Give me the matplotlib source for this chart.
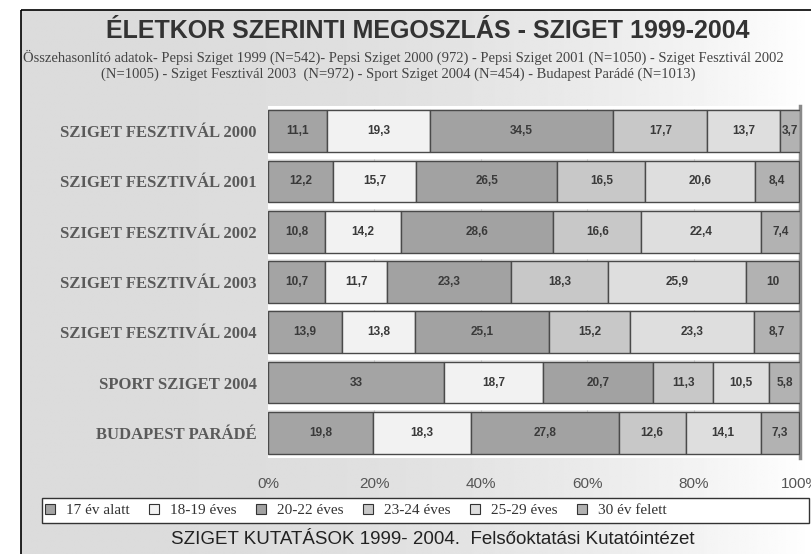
import numpy as np
import matplotlib
matplotlib.use("Agg")
import matplotlib.pyplot as plt
from matplotlib.patches import Rectangle, Patch

# -------------------- adatok --------------------
rows = ["SZIGET FESZTIVÁL 2000", "SZIGET FESZTIVÁL 2001", "SZIGET FESZTIVÁL 2002",
        "SZIGET FESZTIVÁL 2003", "SZIGET FESZTIVÁL 2004", "SPORT SZIGET 2004",
        "BUDAPEST PARÁDÉ"]
groups = ["17 év alatt", "18-19 éves", "20-22 éves", "23-24 éves", "25-29 éves", "30 év felett"]
age_17 = [11.1, 12.2, 10.8, 10.7, 13.9, 33, 19.8]
age_18_19 = [19.3, 15.7, 14.2, 11.7, 13.8, 18.7, 18.3]
age_20_22 = [34.5, 26.5, 28.6, 23.3, 25.1, 20.7, 27.8]
age_23_24 = [17.7, 16.5, 16.6, 18.3, 15.2, 11.3, 12.6]
age_25_29 = [13.7, 20.6, 22.4, 25.9, 23.3, 10.5, 14.1]
age_30 = [3.7, 8.4, 7.4, 10, 8.7, 5.8, 7.3]
xticks = [0, 20, 40, 60, 80, 100]

series = [age_17, age_18_19, age_20_22, age_23_24, age_25_29, age_30]
colors = ["#a4a4a4", "#f2f2f2", "#a2a2a2", "#c8c8c8", "#dedede", "#b2b2b2"]

W, H = 812, 554
fig = plt.figure(figsize=(W / 100, H / 100), dpi=100)

# -------------------- háttér panel --------------------
bg = fig.add_axes([0, 0, 1, 1])
bg.set_xlim(0, W)
bg.set_ylim(H, 0)
bg.axis("off")
xx = np.linspace(0, 1, 300)
grad = 0.86 + 0.14 * xx ** 2.5
img = np.tile(grad, (50, 1))
bg.imshow(img, cmap="gray", vmin=0, vmax=1, extent=[21, W + 2, H + 2, 10],
          aspect="auto", interpolation="bilinear")
bg.add_patch(Rectangle((21, 10), W, H, fill=False, edgecolor="black", lw=1.2))

bg.text(428, 31, "ÉLETKOR SZERINTI MEGOSZLÁS - SZIGET 1999-2004", ha="center", va="center",
        fontsize=18, fontweight="bold", family="Liberation Sans", color="#333333")
bg.text(23, 57, "Összehasonlító adatok- Pepsi Sziget 1999 (N=542)- Pepsi Sziget 2000 (972) - "
        "Pepsi Sziget 2001 (N=1050) - Sziget Fesztivál 2002",
        ha="left", va="center", fontsize=10.5, family="Liberation Serif", color="#444444")
bg.text(398, 74, "(N=1005) - Sziget Fesztivál 2003  (N=972) - Sport Sziget 2004 (N=454) - "
        "Budapest Parádé (N=1013)",
        ha="center", va="center", fontsize=10.5, family="Liberation Serif", color="#444444")

# -------------------- diagram --------------------
ax = fig.add_axes([268 / W, 1 - 458 / H, 532 / W, 352 / H])
ax.set_facecolor("#e4e4e4")
y = np.arange(len(rows))
left = np.zeros(len(rows))
for vals, col in zip(series, colors):
    vals = np.array(vals)
    ax.barh(y, vals, left=left, height=0.83, color=col, edgecolor="#4a4a4a", lw=1.0, zorder=3)
    for yi, l, v in zip(y, left, vals):
        ax.text(l + v / 2, yi, f"{v:g}".replace(".", ","), ha="center", va="center",
                fontsize=8.5, fontweight="bold", color="#3a3a3a", family="Liberation Sans",
                zorder=4)
    left = left + vals

# fehér "mélység" csíkok a sávok között
for yi in np.arange(-0.5, len(rows), 1.0):
    ax.axhspan(yi - 0.085, yi + 0.03, color="white", zorder=2)
for xt in xticks[1:-1]:
    ax.axvline(xt, color="#c8c8c8", lw=0.8, zorder=1)

ax.set_xlim(0, 100)
ax.set_ylim(len(rows) - 0.5, -0.5)
ax.set_xticks(xticks)
ax.set_xticklabels([f"{t}%" for t in xticks], fontsize=11, color="#555555",
                   family="Liberation Sans")
ax.set_yticks(y)
ax.set_yticklabels(rows, fontsize=12, fontweight="bold", color="#5a5a5a",
                   family="Liberation Serif")
ax.tick_params(axis="x", length=0, pad=14)
ax.tick_params(axis="y", length=0, pad=8)
for s in ax.spines.values():
    s.set_visible(False)
ax.spines["right"].set_visible(True)
ax.spines["right"].set_color("#888888")
ax.spines["right"].set_linewidth(2.5)

# -------------------- jelmagyarázat --------------------
bg.add_patch(Rectangle((42, 498), 767, 25, facecolor="white", edgecolor="#333333", lw=1.0))
handles = [Patch(facecolor=c, edgecolor="#333333", lw=0.8) for c in colors]
fig.legend(handles, groups, loc="center left", bbox_to_anchor=(45 / W, 1 - 510.5 / H),
           ncol=6, frameon=False, prop={"family": "Liberation Serif", "size": 11},
           handlelength=0.65, handleheight=0.65, handletextpad=0.7, columnspacing=1.3,
           borderpad=0, borderaxespad=0, labelcolor="#333333")

bg.text(433, 540, "SZIGET KUTATÁSOK 1999- 2004.  Felsőoktatási Kutatóintézet", ha="center",
        va="center", fontsize=13.5, family="Liberation Sans", color="#222222")

fig.savefig("out.png", dpi=100)
